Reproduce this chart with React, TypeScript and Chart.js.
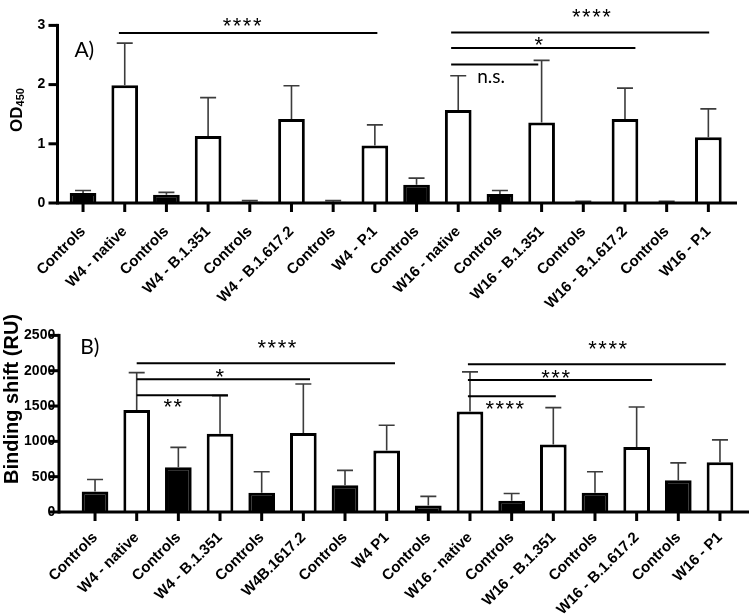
import React, { useEffect, useRef } from 'react';
import { Chart, registerables } from 'chart.js';

Chart.register(...registerables);

// ---------- Data ----------
const categoriesA = [
  'Controls', 'W4 - native', 'Controls', 'W4 - B.1.351', 'Controls', 'W4 - B.1.617.2', 'Controls', 'W4 - P.1',
  'Controls', 'W16 - native', 'Controls', 'W16 - B.1.351', 'Controls', 'W16 - B.1.617.2', 'Controls', 'W16 - P.1',
];
const odMeans = [0.17, 1.99, 0.14, 1.13, 0.02, 1.42, 0.02, 0.97, 0.31, 1.57, 0.15, 1.36, 0.01, 1.42, 0.01, 1.11];
const odSD = [0.04, 0.71, 0.04, 0.65, 0.02, 0.56, 0.02, 0.35, 0.11, 0.58, 0.06, 1.05, 0.02, 0.52, 0.02, 0.48];
const odTicks = [0, 1, 2, 3];

const categoriesB = [
  'Controls', 'W4 - native', 'Controls', 'W4 - B.1.351', 'Controls', 'W4B.1617.2', 'Controls', 'W4 P1',
  'Controls', 'W16 - native', 'Controls', 'W16 - B.1.351', 'Controls', 'W16 - B.1.617.2', 'Controls', 'W16 - P1',
];
const bindMeans = [290, 1444, 635, 1109, 271, 1118, 377, 869, 92, 1421, 161, 957, 271, 920, 451, 704];
const bindSD = [170, 529, 280, 538, 299, 694, 212, 359, 129, 562, 101, 520, 299, 566, 244, 317];
const bindTicks = [0, 500, 1000, 1500, 2000, 2500];

// significance brackets: from / to category index, height in data units, label and label centre
const bracketsA = [
  { x1: 0.86, x2: 7.06, y: 2.87, label: '****', lx: 3.82, ly: 3.05 },
  { x1: 8.83, x2: 15.02, y: 2.88, label: '****', lx: 12.2, ly: 3.21 },
  { x1: 8.83, x2: 13.25, y: 2.62, label: '*', lx: 10.94, ly: 2.74 },
  { x1: 8.83, x2: 10.92, y: 2.34, label: 'n.s.', lx: 9.82, ly: 2.11 },
];
const bracketsB = [
  { x1: 1.0, x2: 7.2, y: 2107, label: '****', lx: 4.37, ly: 2385 },
  { x1: 1.0, x2: 5.16, y: 1881, label: '*', lx: 3.0, ly: 1972 },
  { x1: 1.0, x2: 3.19, y: 1651, label: '**', lx: 1.87, ly: 1544 },
  { x1: 8.95, x2: 15.14, y: 2093, label: '****', lx: 12.31, ly: 2358 },
  { x1: 8.95, x2: 13.37, y: 1868, label: '***', lx: 11.06, ly: 1958 },
  { x1: 8.95, x2: 11.06, y: 1638, label: '****', lx: 9.84, ly: 1517 },
];

// ---------- Styling ----------
const ARIAL = '"Liberation Sans", Arial, sans-serif';
const CAL = 'Lato, "Open Sans", sans-serif';
const W = 749;
const H = 308;

type Bracket = { x1: number; x2: number; y: number; label: string; lx: number; ly: number };

type PanelProps = {
  top: number;
  labels: string[];
  means: number[];
  sd: number[];
  ticks: number[];
  brackets: Bracket[];
  areaTop: number;
  areaBottom: number;
  areaLeft: number;
  areaRight: number;
  axisX: number;
  axisEnd: number;
  tickPad: number;
  labelDrop: number;
  panelLabel: string;
  panelLabelPos: [number, number];
  title: 'od' | 'bind';
  titlePos: [number, number];
};

function drawCentered(ctx: CanvasRenderingContext2D, text: string, cx: number, cy: number) {
  const m = ctx.measureText(text);
  const asc = m.actualBoundingBoxAscent;
  const desc = m.actualBoundingBoxDescent;
  const l = m.actualBoundingBoxLeft;
  const r = m.actualBoundingBoxRight;
  ctx.textAlign = 'left';
  ctx.textBaseline = 'alphabetic';
  ctx.fillText(text, cx - (r - l) / 2 + l, cy + (asc - desc) / 2);
}

function Panel(p: PanelProps) {
  const ref = useRef<HTMLCanvasElement>(null);
  useEffect(() => {
    const canvas = ref.current!;
    const plugin = {
      id: 'decor',
      afterDatasetsDraw(chart: any) {
        const ctx: CanvasRenderingContext2D = chart.ctx;
        const xs = chart.scales.x;
        const ys = chart.scales.y;
        const area = chart.chartArea;
        ctx.save();
        // error bars (upper only)
        ctx.strokeStyle = '#3c3c3c';
        ctx.lineWidth = 1.6;
        p.means.forEach((m, i) => {
          const cx = xs.getPixelForValue(i);
          const y0 = ys.getPixelForValue(m);
          const y1 = ys.getPixelForValue(m + p.sd[i]);
          ctx.beginPath();
          ctx.moveTo(cx, y0);
          ctx.lineTo(cx, y1);
          ctx.moveTo(cx - 8, y1);
          ctx.lineTo(cx + 8, y1);
          ctx.stroke();
        });
        ctx.fillStyle = '#000';
        // y axis line and ticks
        ctx.fillRect(p.axisX - 1.5, area.top - 1.5, 3, area.bottom - area.top + 3);
        p.ticks.forEach((t) => {
          const yy = ys.getPixelForValue(t);
          ctx.fillRect(p.axisX - 9, yy - 1.5, 9, 3);
        });
        // x axis line and ticks
        ctx.fillRect(p.axisX, area.bottom - 1.5, p.axisEnd - p.axisX, 3);
        p.labels.forEach((lab, i) => {
          const cx = xs.getPixelForValue(i);
          ctx.fillRect(cx - 1.5, area.bottom, 3, 9);
          ctx.save();
          ctx.translate(cx + 3, area.bottom + p.labelDrop);
          ctx.rotate(-Math.PI / 4);
          ctx.font = `bold 15px ${ARIAL}`;
          ctx.textAlign = 'right';
          ctx.textBaseline = 'alphabetic';
          ctx.fillText(lab, 0, 0);
          ctx.restore();
        });
        // brackets
        ctx.strokeStyle = '#000';
        ctx.lineWidth = 2;
        p.brackets.forEach((b) => {
          const yy = ys.getPixelForValue(b.y);
          ctx.beginPath();
          ctx.moveTo(xs.getPixelForValue(b.x1), yy);
          ctx.lineTo(xs.getPixelForValue(b.x2), yy);
          ctx.stroke();
          const lx = xs.getPixelForValue(b.lx);
          const ly = ys.getPixelForValue(b.ly);
          if (b.label === 'n.s.') {
            ctx.font = `19px ${CAL}`;
            (ctx as any).letterSpacing = '0px';
          } else {
            ctx.font = `22px ${ARIAL}`;
            (ctx as any).letterSpacing = '1.5px';
          }
          drawCentered(ctx, b.label, lx, ly);
          (ctx as any).letterSpacing = '0px';
        });
        // panel label
        ctx.font = `21px ${CAL}`;
        drawCentered(ctx, p.panelLabel, p.panelLabelPos[0], p.panelLabelPos[1]);
        // y title
        ctx.save();
        ctx.translate(p.titlePos[0], p.titlePos[1]);
        ctx.rotate(-Math.PI / 2);
        ctx.textBaseline = 'alphabetic';
        ctx.textAlign = 'left';
        if (p.title === 'od') {
          ctx.font = `bold 17px ${ARIAL}`;
          const w1 = ctx.measureText('OD').width;
          ctx.font = `bold 11px ${ARIAL}`;
          const w2 = ctx.measureText('450').width;
          const start = -(w1 + w2) / 2;
          ctx.font = `bold 17px ${ARIAL}`;
          ctx.fillText('OD', start, 6);
          ctx.font = `bold 11px ${ARIAL}`;
          ctx.fillText('450', start + w1, 8);
        } else {
          ctx.font = `bold 20px ${ARIAL}`;
          ctx.textAlign = 'center';
          ctx.fillText('Binding shift (RU)', 0, 7);
        }
        ctx.restore();
        ctx.restore();
      },
    };

    const chart = new Chart(canvas, {
      type: 'bar',
      data: {
        labels: p.labels,
        datasets: [
          {
            data: p.means,
            backgroundColor: p.labels.map((l) => (l === 'Controls' ? '#000' : '#fff')),
            borderColor: '#000',
            borderWidth: 3,
            borderSkipped: 'bottom',
            barPercentage: 0.64,
            categoryPercentage: 1,
          },
        ],
      },
      options: {
        responsive: false,
        animation: false,
        devicePixelRatio: 1,
        layout: { padding: { top: p.areaTop, left: 0, right: W - p.areaRight, bottom: 0 } },
        plugins: { legend: { display: false }, tooltip: { enabled: false } },
        scales: {
          x: {
            type: 'category',
            offset: true,
            ticks: { display: false },
            grid: { display: false, drawTicks: false },
            border: { display: false },
            afterFit: (s: any) => {
              s.height = H - p.areaBottom;
            },
          },
          y: {
            type: 'linear',
            min: p.ticks[0],
            max: p.ticks[p.ticks.length - 1],
            afterBuildTicks: (s: any) => {
              s.ticks = p.ticks.map((v) => ({ value: v }));
            },
            ticks: {
              color: '#000',
              padding: p.tickPad,
              font: { family: ARIAL, size: 14, weight: 'bold' },
              callback: (v: any) => String(v),
            },
            grid: { display: false, drawTicks: false },
            border: { display: false },
            afterFit: (s: any) => {
              s.width = p.areaLeft;
            },
          },
        },
      },
      plugins: [plugin],
    } as any);
    return () => chart.destroy();
  }, []);
  return (
    <canvas
      ref={ref}
      width={W}
      height={H}
      style={{ position: 'absolute', left: 0, top: p.top, width: W, height: H, display: 'block' }}
    />
  );
}

export default function App() {
  return (
    <div style={{ position: 'absolute', left: 0, top: 0, width: W, height: 616, background: '#fff', overflow: 'hidden' }}>
      <Panel
        top={0}
        labels={categoriesA}
        means={odMeans}
        sd={odSD}
        ticks={odTicks}
        brackets={bracketsA}
        areaTop={21}
        areaBottom={203}
        areaLeft={62.2}
        areaRight={729.2}
        axisX={57.5}
        axisEnd={737}
        tickPad={17}
        labelDrop={29}
        panelLabel="A)"
        panelLabelPos={[84, 50]}
        title="od"
        titlePos={[16, 110]}
      />
      <Panel
        top={308}
        labels={categoriesB}
        means={bindMeans}
        sd={bindSD}
        ticks={bindTicks}
        brackets={bracketsB}
        areaTop={23}
        areaBottom={204}
        areaLeft={74.2}
        areaRight={740.8}
        axisX={59}
        axisEnd={749}
        tickPad={19}
        labelDrop={26}
        panelLabel="B)"
        panelLabelPos={[91, 39]}
        title="bind"
        titlePos={[11, 91]}
      />
    </div>
  );
}
